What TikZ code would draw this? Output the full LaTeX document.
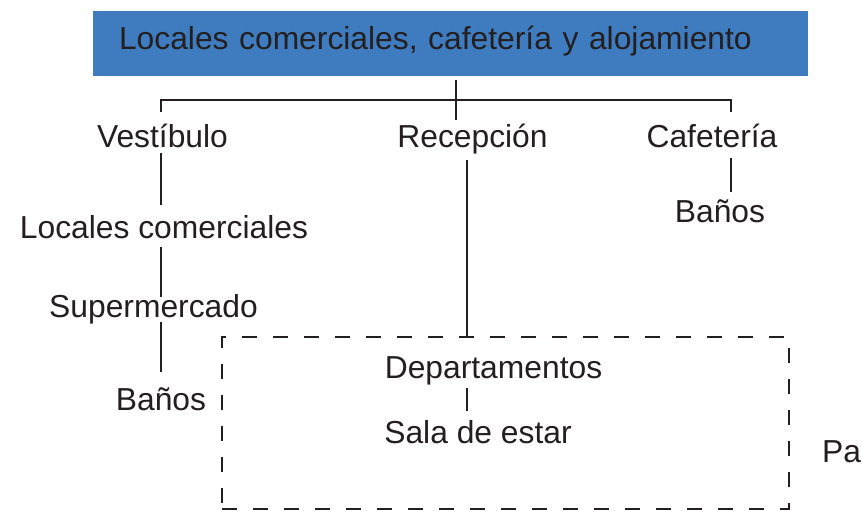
\documentclass[tikz,border=0pt]{standalone}
\usepackage{fontspec}
\setmainfont{Liberation Sans}
\usepackage{xcolor}
\usepackage{tikz}
\definecolor{inkgray}{HTML}{231F20}
\definecolor{bannerblue}{HTML}{3F7CBF}

\begin{document}
\begin{tikzpicture}[
    x=1pt, y=-1pt,
    lbl/.style={
      font=\fontsize{31.8}{38}\selectfont, text=inkgray,
      inner sep=0pt, text height=23pt, text depth=0pt, anchor=base
    },
    banner/.style={
      lbl, anchor=center, fill=bannerblue,
      text width=663pt, align=left,
      inner xsep=26pt, inner ysep=0pt,
      text height=39pt, text depth=26pt
    },
    conn/.style={draw=inkgray, line width=2pt},
    zone/.style={
      draw=inkgray, dash pattern=on 15pt off 16pt,
      line width=1.3pt, inner sep=0pt
    }
  ]

    \useasboundingbox (0,0) rectangle (862,511);

    % ── Header ──
    \node[banner] (top) at (450.5,43.5)
      {Locales comerciales, cafetería y alojamiento};

    % ── First level ──
    \node[lbl] (vest) at (162.5,147) {Vestíbulo};
    \node[lbl] (rec) at (472.5,147) {Recepción};
    \node[lbl] (caf) at (712,147) {Cafetería};

    % ── Vestíbulo branch ──
    \node[lbl] (loc) at (164,238) {Locales comerciales};
    \node[lbl] (super) at (153.5,317) {Supermercado};
    \node[lbl] (banosv) at (161,410) {Baños};

    % ── Cafetería branch ──
    \node[lbl] (banosc) at (720,222) {Baños};

    % ── Alojamiento zone ──
    \node[zone, minimum width=567pt, minimum height=172pt]
      (flat) at (505.5,423) {};
    \node[lbl] (dep) at (493.5,378) {Departamentos};
    \node[lbl] (sala) at (478,443) {Sala de estar};
    \node[lbl, anchor=base west] (pa) at (822,462) {Pa};

    % ── Connectors ──
    \coordinate (vx) at (161,0);
    \coordinate (hx) at (456,0);
    \coordinate (rx) at (467,0);
    \coordinate (cx) at (731,0);
    \coordinate (hub) at (456,100);

    \draw[conn, shorten <=4pt, shorten >=4pt]
      (top.south -| hx) -- (rec.north -| hx);
    \draw[conn, shorten <=12pt, shorten >=12pt]
      (vest.north -| vx) |- (hub) -| (caf.north -| cx);

    \draw[conn, shorten <=6pt, shorten >=10pt]
      (vest.south -| vx) -- (loc.north -| vx);
    \draw[conn, shorten <=9pt, shorten >=-3pt]
      (loc.south -| vx) -- (super.north -| vx);
    \draw[conn, shorten <=5pt, shorten >=15pt]
      (super.south -| vx) -- (banosv.north -| vx);

    \draw[conn, shorten <=13pt]
      (rec.south -| rx) -- (flat.north -| rx);
    \draw[conn, shorten <=10pt, shorten >=9pt]
      (dep.south -| rx) -- (sala.north -| rx);

    \draw[conn, shorten <=11pt, shorten >=7pt]
      (caf.south -| cx) -- (banosc.north -| cx);

  \end{tikzpicture}
\end{document}
